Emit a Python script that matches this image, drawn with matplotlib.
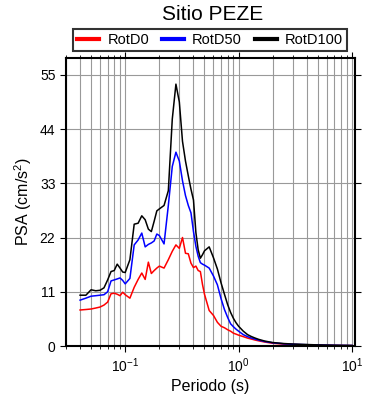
import numpy as np
import matplotlib
matplotlib.use("Agg")
import matplotlib.pyplot as plt
from matplotlib.ticker import LogLocator, FixedLocator

plt.rcParams['font.family'] = ['Liberation Sans', 'DejaVu Sans']
plt.rcParams['mathtext.fontset'] = 'custom'
plt.rcParams['mathtext.rm'] = 'Liberation Sans'
plt.rcParams['mathtext.it'] = 'Liberation Sans:italic'

title = "Sitio PEZE"
series_names = ["RotD0", "RotD50", "RotD100"]
series_colors = ["red", "blue", "black"]

periods = [0.04, 0.045, 0.05, 0.055, 0.06, 0.065, 0.07, 0.075, 0.08, 0.085, 0.09, 0.095,
           0.1, 0.11, 0.12, 0.13, 0.14, 0.15, 0.16, 0.17, 0.18, 0.19, 0.2, 0.22, 0.24,
           0.26, 0.28, 0.3, 0.32, 0.34, 0.36, 0.38, 0.4, 0.42, 0.44, 0.46, 0.48, 0.5,
           0.55, 0.6, 0.65, 0.7, 0.75, 0.8, 0.85, 0.9, 0.95, 1.0, 1.1, 1.2, 1.3, 1.4,
           1.5, 1.7, 2.0, 2.5, 3, 4, 5, 6, 7, 8, 9, 10]

rotd0 = [7.3, 7.4, 7.5, 7.7, 7.9, 8.3, 8.9, 10.6, 10.7, 10.5, 10.2, 10.9,
         10.4, 9.7, 11.9, 13.5, 14.8, 13.5, 17.0, 14.7, 15.3, 15.8, 16.2, 15.8, 17.5,
         19.2, 20.5, 19.8, 22.0, 18.8, 18.7, 16.8, 15.9, 16.2, 15.3, 15.1, 12.5, 10.5,
         7.2, 6.2, 4.8, 4.0, 3.7, 3.3, 3.0, 2.6, 2.4, 2.2, 1.9, 1.6, 1.4, 1.2,
         1.05, 0.8, 0.55, 0.38, 0.3, 0.22, 0.17, 0.14, 0.12, 0.1, 0.09, 0.08]

rotd50 = [9.3, 9.7, 10.1, 10.2, 10.3, 10.4, 11.0, 13.2, 13.4, 13.6, 13.8, 13.3,
          12.6, 13.7, 20.5, 21.5, 22.9, 20.1, 20.6, 20.9, 21.3, 22.7, 22.4, 20.7, 28.5,
          36.4, 39.3, 37.5, 33.5, 30.5, 28.5, 27.0, 23.2, 20.2, 18.2, 16.9, 16.6, 16.4,
          15.8, 14.2, 12.4, 9.6, 7.4, 5.8, 4.5, 3.9, 3.4, 3.0, 2.3, 1.9, 1.6, 1.4,
          1.2, 0.9, 0.65, 0.45, 0.35, 0.26, 0.2, 0.17, 0.14, 0.12, 0.11, 0.1]

rotd100 = [10.3, 10.3, 11.4, 11.2, 11.3, 11.8, 13.4, 15.1, 15.3, 16.6, 15.8, 15.0,
           14.9, 17.5, 24.7, 24.9, 26.4, 25.6, 23.7, 23.2, 25.3, 27.4, 27.8, 28.5, 31.5,
           46.0, 53.1, 49.5, 41.5, 37.5, 34.5, 31.8, 29.6, 23.0, 19.5, 17.8, 18.5, 19.3,
           20.1, 17.9, 15.6, 12.8, 10.5, 8.4, 6.8, 5.6, 4.7, 4.0, 3.0, 2.3, 1.9, 1.6,
           1.35, 1.0, 0.7, 0.5, 0.4, 0.3, 0.22, 0.18, 0.15, 0.13, 0.12, 0.1]

y_ticks = [0, 11, 22, 33, 44, 55]

fig = plt.figure(figsize=(3.9, 4.0), dpi=100)
ax = fig.add_axes([0.169, 0.135, 0.741, 0.72])

for vals, name, col in zip([rotd0, rotd50, rotd100], series_names, series_colors):
    ax.plot(periods, vals, color=col, lw=1.1, label=name)

ax.set_xscale('log')
ax.set_xlim(0.03, 10.6)
ax.set_ylim(0, 58.4)
ax.yaxis.set_major_locator(FixedLocator(y_ticks))
ax.xaxis.set_major_locator(LogLocator(base=10, numticks=10))
ax.xaxis.set_minor_locator(LogLocator(base=10, subs=np.arange(2, 10), numticks=20))

ax.grid(True, which='major', color='#999999', lw=0.8)
ax.grid(True, which='minor', axis='x', color='#999999', lw=0.8)
ax.set_axisbelow(True)

for s in ax.spines.values():
    s.set_linewidth(1.5)
    s.set_color('black')

ax.tick_params(which='major', direction='out', length=4, width=0.8, labelsize=10,
               top=True, right=True, labeltop=False, labelright=False)
ax.tick_params(which='minor', direction='out', length=2.5, width=0.6,
               top=True, right=True)

ax.set_xlabel("Periodo (s)", fontsize=11.5, labelpad=3)
ax.set_ylabel("PSA (cm/s$^2$)", fontsize=11.5, labelpad=4)

fig.text(0.545, 0.963, title, ha='center', va='center', fontsize=15)

leg = fig.legend(loc='center', bbox_to_anchor=(0.539, 0.9), ncol=3, frameon=True,
                 fancybox=False, edgecolor='black', fontsize=10.5, handlelength=1.5,
                 handletextpad=0.55, columnspacing=0.9, borderpad=0.3,
                 borderaxespad=0)
leg.get_frame().set_linewidth(1.5)
for line in leg.get_lines():
    line.set_linewidth(3)

fig.savefig("out.png", dpi=100)
